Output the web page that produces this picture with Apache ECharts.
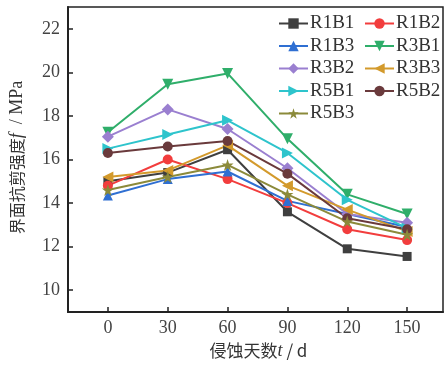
<!DOCTYPE html>
<html>
<head>
<meta charset="utf-8">
<script src="https://cdn.jsdelivr.net/npm/echarts@6/dist/echarts.min.js"></script>
<style>
  html, body { margin: 0; padding: 0; background: #fff; }
  #chart { width: 445px; height: 366px; }
</style>
</head>
<body>
<div id="chart"></div>
<script>
// Erosion days (x) and interface shear strength in MPa (y) for each mix
const days = [0, 30, 60, 90, 120, 150];
const xTicks = [0, 30, 60, 90, 120, 150];
const yTicks = [10, 12, 14, 16, 18, 20, 22];

const R1B1 = [15.0, 15.4, 16.45, 13.6, 11.9, 11.55];
const R1B2 = [14.8, 16.0, 15.1, 14.0, 12.8, 12.3];
const R1B3 = [14.35, 15.1, 15.45, 14.1, 13.5, 12.9];
const R3B1 = [17.25, 19.45, 19.95, 16.95, 14.4, 13.5];
const R3B2 = [17.05, 18.3, 17.4, 15.6, 13.5, 13.1];
const R3B3 = [15.2, 15.5, 16.65, 14.8, 13.7, 12.7];
const R5B1 = [16.5, 17.15, 17.8, 16.3, 14.15, 12.85];
const R5B2 = [16.3, 16.6, 16.85, 15.35, 13.3, 12.8];
const R5B3 = [14.6, 15.2, 15.75, 14.4, 13.15, 12.55];

const seriesDefs = [
  { name: 'R1B1', data: R1B1, color: '#3f3f3f', symbol: 'rect', size: 9 },
  { name: 'R1B2', data: R1B2, color: '#f23d3d', symbol: 'circle', size: 10 },
  { name: 'R1B3', data: R1B3, color: '#2f6fd2', symbol: 'triangle', size: 10 },
  { name: 'R3B1', data: R3B1, color: '#2fae6a', symbol: 'path://M0,0 L10,0 L5,9 Z', size: 11 },
  { name: 'R3B2', data: R3B2, color: '#9a7fd0', symbol: 'diamond', size: 12 },
  { name: 'R3B3', data: R3B3, color: '#d39a2c', symbol: 'path://M10,0 L10,10 L0,5 Z', size: 11 },
  { name: 'R5B1', data: R5B1, color: '#2ec4cc', symbol: 'path://M0,0 L0,10 L10,5 Z', size: 11 },
  { name: 'R5B2', data: R5B2, color: '#6a3a3c', symbol: 'circle', size: 10 },
  { name: 'R5B3', data: R5B3, color: '#8b8a3a', symbol: 'path://M5,0 L6.2,3.6 L10,3.6 L6.9,5.9 L8.1,9.5 L5,7.3 L1.9,9.5 L3.1,5.9 L0,3.6 L3.8,3.6 Z', size: 12 }
];

const serif = '"Liberation Serif", "DejaVu Serif", serif';
const cjk = '"Noto Sans CJK SC", sans-serif';

const chart = echarts.init(document.getElementById('chart'), null, { renderer: 'canvas' });

const legendBase = {
  orient: 'vertical',
  itemWidth: 29,
  itemHeight: 13,
  itemGap: 3.5,
  textStyle: { fontFamily: serif, fontSize: 19, lineHeight: 19, color: '#333', padding: [0, 0, 0, -3] },
  padding: 0
};

chart.setOption({
  animation: false,
  backgroundColor: '#fff',
  grid: { left: 68, right: 2, top: 7, bottom: 54, show: true, borderColor: '#222', borderWidth: 1.5 },
  legend: [
    Object.assign({}, legendBase, { left: 278, top: 14, data: ['R1B1', 'R1B3', 'R3B2', 'R5B1', 'R5B3'] }),
    Object.assign({}, legendBase, { left: 364, top: 14, data: ['R1B2', 'R3B1', 'R3B3', 'R5B2'] })
  ],
  xAxis: {
    type: 'value',
    min: -20,
    max: 168,
    name: '{a|侵蚀天数}{b|t}{a| / d}',
    nameLocation: 'middle',
    nameGap: 30,
    nameTextStyle: {
      padding: [0, 0, 0, 6],
      rich: {
        a: { fontFamily: cjk, fontSize: 17, color: '#333' },
        b: { fontFamily: serif, fontSize: 18, fontStyle: 'italic', color: '#333' }
      }
    },
    splitLine: { show: false },
    axisLine: { show: true, onZero: false, lineStyle: { color: '#222', width: 2 } },
    axisTick: { show: true, inside: true, length: 5, customValues: xTicks, lineStyle: { color: '#222', width: 1.5 } },
    axisLabel: { customValues: xTicks, fontFamily: serif, fontSize: 18, color: '#444', margin: 7 }
  },
  yAxis: {
    type: 'value',
    min: 9,
    max: 23,
    name: '{a|界面抗剪强度}{b|f}{c|  / MPa}',
    nameLocation: 'middle',
    nameRotate: 90,
    nameGap: 42,
    nameTextStyle: {
      padding: [0, 0, 0, 4],
      rich: {
        a: { fontFamily: cjk, fontSize: 16, color: '#333' },
        b: { fontFamily: serif, fontSize: 18, fontStyle: 'italic', color: '#333' },
        c: { fontFamily: serif, fontSize: 18, color: '#333' }
      }
    },
    splitLine: { show: false },
    axisLine: { show: true, onZero: false, lineStyle: { color: '#222', width: 2 } },
    axisTick: { show: true, inside: true, length: 5, customValues: yTicks, lineStyle: { color: '#222', width: 1.5 } },
    axisLabel: { customValues: yTicks, fontFamily: serif, fontSize: 18, color: '#444', margin: 8 }
  },
  series: seriesDefs.map(s => ({
    name: s.name,
    type: 'line',
    data: days.map((d, i) => [d, s.data[i]]),
    symbol: s.symbol,
    symbolSize: s.size,
    showAllSymbol: true,
    color: s.color,
    lineStyle: { color: s.color, width: 2 },
    itemStyle: { color: s.color }
  }))
});
</script>
</body>
</html>
